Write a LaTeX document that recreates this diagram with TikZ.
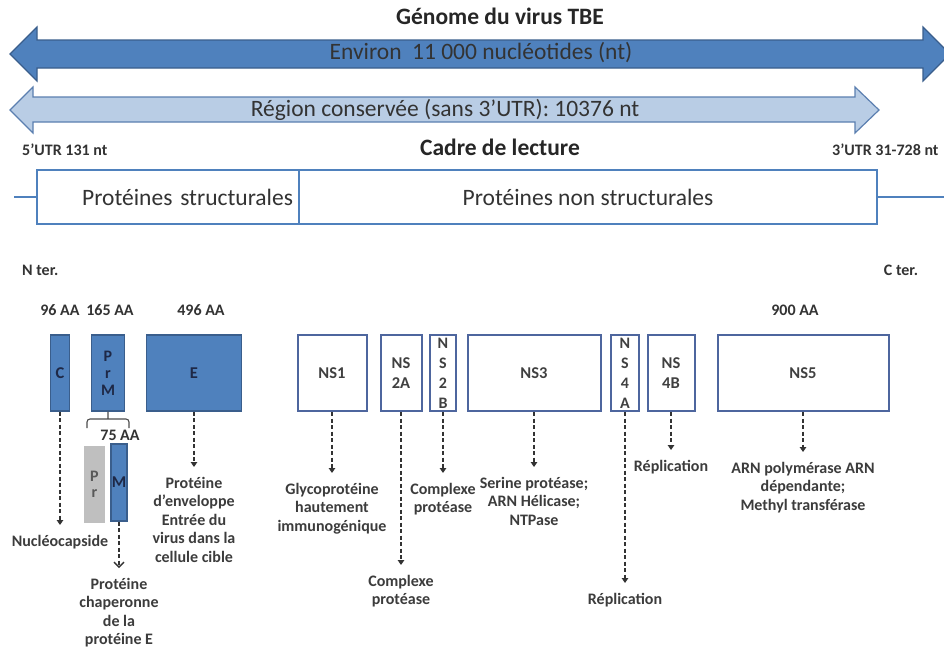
\documentclass[tikz,border=0pt]{standalone}
\usepackage{fontspec}
\setmainfont{Carlito}
\usetikzlibrary{arrows.meta, positioning}
\definecolor{tbeblue}{RGB}{79,129,189}
\definecolor{tbeedge}{RGB}{58,94,140}
\definecolor{tbelight}{RGB}{185,205,229}
\definecolor{tbelightedge}{RGB}{91,127,176}
\definecolor{nsedge}{RGB}{78,102,158}
\definecolor{boxtext}{RGB}{30,40,70}
\definecolor{lbltext}{RGB}{60,60,60}
\newcommand\lblfont{\bfseries\fontsize{16}{18.5}\selectfont}
\newcommand\bigfont{\fontsize{23.5}{27}\selectfont}
\begin{document}
\begin{tikzpicture}[
  x=1pt, y=-1pt,
  titletext/.style={font=\bfseries\fontsize{23.5}{27}\selectfont, text=black!85, inner sep=0pt},
  bigtext/.style={font=\bigfont, text=black!80, inner sep=0pt},
  smalltext/.style={font=\lblfont, text=black!80, inner sep=0pt},
  framebox/.style={draw=tbeblue, line width=1.4pt, minimum height=54pt, font=\bigfont, text=black!80},
  framestub/.style={draw=tbeblue, line width=1.4pt},
  pbox/.style={draw=tbeedge, fill=tbeblue, line width=1.2pt, minimum height=76pt, inner sep=0pt,
               font=\bfseries\fontsize{16.5}{17.5}\selectfont, text=boxtext, align=center},
  prbox/.style={pbox, draw=none, fill=black!25, text=black!65, minimum height=77pt},
  nsbox/.style={pbox, draw=nsedge, fill=white, line width=2pt, text=black!75},
  stacked/.style={font=\bfseries\fontsize{16}{20}\selectfont},
  lbl/.style={anchor=north, align=center, font=\lblfont, text=lbltext, inner xsep=0pt, inner ysep=10pt},
  fnarrow/.style={-{Triangle[length=5pt,width=6.5pt]}, dash pattern=on 4pt off 2.5pt, line width=2pt, draw=black!80},
  openarrow/.style={fnarrow, -{Straight Barb[length=5pt,width=10pt,line width=1.3pt]}}
]
\useasboundingbox[fill=white] (0,0) rectangle (944,648);

\draw[draw=tbeedge, fill=tbeblue, line width=1.2pt]
  (10,54) -- (37,27) -- (37,40) -- (923,40) -- (923,27) -- (950,54)
  -- (923,81) -- (923,68) -- (37,68) -- (37,81) -- cycle;
\draw[draw=tbelightedge, fill=tbelight, line width=1.2pt]
  (10,110) -- (33,87) -- (33,97) -- (855,97) -- (855,87) -- (879,110)
  -- (855,133) -- (855,122) -- (33,122) -- (33,133) -- cycle;

\node[titletext] (genome) at (500,16) {Génome du virus TBE};
\node[bigtext] (environ) at (481,53) {Environ\ \ 11 000 nucléotides (nt)};
\node[bigtext] (region) at (445,110) {Région conservée (sans 3’UTR): 10376 nt};
\node[smalltext, anchor=west] (utr5) at (22,150) {5’UTR 131 nt};
\node[smalltext, anchor=west] (utr3) at (832,150) {3’UTR 31-728 nt};
\node[titletext] (cadre) at (500,147) {Cadre de lecture};

\node[framebox, minimum width=262pt, text width=250pt, inner xsep=6pt, align=right] (struct) at (168,197) {Protéines structurales};
\node[framebox, minimum width=578pt] (nonstruct) at (588,197) {Protéines non structurales};
\coordinate (lstub) at (14,197);
\coordinate (rstub) at (944,197);
\draw[framestub] (lstub) -- (struct.west);
\draw[framestub] (nonstruct.east) -- (rstub);

\node[smalltext, anchor=west] (nter) at (22,270) {N ter.};
\node[smalltext] (cter) at (901,270) {C ter.};
\node[smalltext] (aa96) at (60,310) {96 AA};
\node[smalltext] (aa165) at (110,310) {165 AA};
\node[smalltext] (aa496) at (201,310) {496 AA};
\node[smalltext] (aa900) at (795,310) {900 AA};

\node[pbox, minimum width=19pt] (c) at (60,373) {C};
\node[pbox, minimum width=33pt, font=\bfseries\fontsize{16}{17}\selectfont] (prm) at (108,373) {P\\r\\M};
\node[pbox, minimum width=95pt] (e) at (194,373) {E};
\node[nsbox, minimum width=69pt] (ns1) at (332,373) {NS1};
\node[nsbox, minimum width=41pt, font=\bfseries\fontsize{16.5}{20}\selectfont] (ns2a) at (401,373) {NS\\2A};
\node[nsbox, stacked, minimum width=26pt] (ns2b) at (443,373) {N\\S\\2\\B};
\node[nsbox, minimum width=133pt] (ns3) at (534,373) {NS3};
\node[nsbox, stacked, minimum width=28pt] (ns4a) at (625,373) {N\\S\\4\\A};
\node[nsbox, minimum width=47pt, font=\bfseries\fontsize{16.5}{20}\selectfont] (ns4b) at (671,373) {NS\\4B};
\node[nsbox, minimum width=171pt] (ns5) at (803,373) {NS5};

\draw[draw=black!70, line width=1.1pt, rounded corners=3pt]
  (87,428) -- (87,419) -- (129,419) -- (129,428)
  (prm.south) -- (108,419);
\node[smalltext] (aa75) at (120,435) {75 AA};
\node[prbox, minimum width=21pt, font=\bfseries\fontsize{16}{16}\selectfont] (pr) at (94.5,484) {P\\r};
\node[pbox, minimum width=16pt, minimum height=77pt] (m) at (119,482.5) {M};

\node[lbl] (fc) at (60,525) {Nucléocapside};
\node[lbl] (fm) at (119,568) {Protéine\\chaperonne\\de la\\protéine E};
\node[lbl] (fe) at (194,467) {Protéine\\d’enveloppe\\Entrée du\\virus dans la\\cellule cible};
\node[lbl] (fns1) at (332,473) {Glycoprotéine\\hautement\\immunogénique};
\node[lbl] (fns2a) at (401,565) {Complexe\\protéase};
\node[lbl] (fns2b) at (443,473) {Complexe\\protéase};
\node[lbl] (fns3) at (534,467) {Serine protéase;\\ARN Hélicase;\\NTPase};
\node[lbl] (fns4a) at (625,583) {Réplication};
\node[lbl] (fns4b) at (671,450) {Réplication};
\node[lbl] (fns5) at (803,452) {ARN polymérase ARN\\dépendante;\\Methyl transférase};

\draw[fnarrow] (c.south) -- (fc.north);
\draw[openarrow] (m.south) -- (fm.north);
\draw[fnarrow] (e.south) -- (fe.north);
\draw[fnarrow] (ns1.south) -- (fns1.north);
\draw[fnarrow] (ns2a.south) -- (fns2a.north);
\draw[fnarrow] (ns2b.south) -- (fns2b.north);
\draw[fnarrow] (ns3.south) -- (fns3.north);
\draw[fnarrow] (ns4a.south) -- (fns4a.north);
\draw[fnarrow] (ns4b.south) -- (fns4b.north);
\draw[fnarrow] (ns5.south) -- (fns5.north);
\end{tikzpicture}
\end{document}
